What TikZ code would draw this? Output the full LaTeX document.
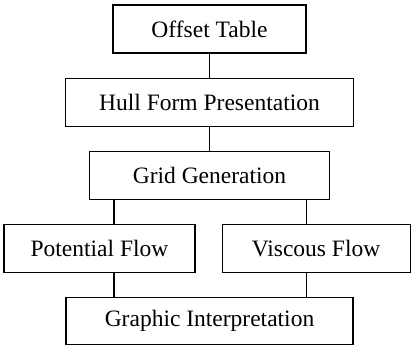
\documentclass[tikz,border=0pt]{standalone}
\usepackage{fontspec}
\setmainfont{Liberation Serif}
\usetikzlibrary{positioning}

\begin{document}
\begin{tikzpicture}[
  font=\fontsize{23.5}{28}\selectfont,
  box/.style={draw,line width=1.1pt,minimum height=48pt,inner sep=0pt},
  conn/.style={line width=1.1pt},
  node distance=24pt
]
\useasboundingbox (0,0) rectangle (413pt,-347pt);
\node[box,minimum width=193pt](offset) at (209.5pt,-29pt){Offset Table};
\node[box,minimum width=288pt,below=of offset](hull){Hull Form Presentation};
\node[box,minimum width=240pt,below=of hull](grid){Grid Generation};
\node[box,minimum width=191pt,below=of grid.south west,xshift=10.5pt](pot){Potential Flow};
\node[box,minimum width=188pt,below=of grid.south east,xshift=-14pt](visc){Viscous Flow};
\node[box,minimum width=287pt,minimum height=47pt,below=24pt of pot.south east,xshift=14pt](graph){Graphic Interpretation};
\coordinate (lx) at ([xshift=25pt]grid.south west);
\coordinate (rx) at ([xshift=-24pt]grid.south east);
\draw[conn](offset)--(hull);\draw[conn](hull)--(grid);
\draw[conn](lx)--(lx|-pot.north);\draw[conn](rx)--(rx|-visc.north);
\draw[conn](lx|-pot.south)--(lx|-graph.north);\draw[conn](rx|-visc.south)--(rx|-graph.north);
\end{tikzpicture}
\end{document}
